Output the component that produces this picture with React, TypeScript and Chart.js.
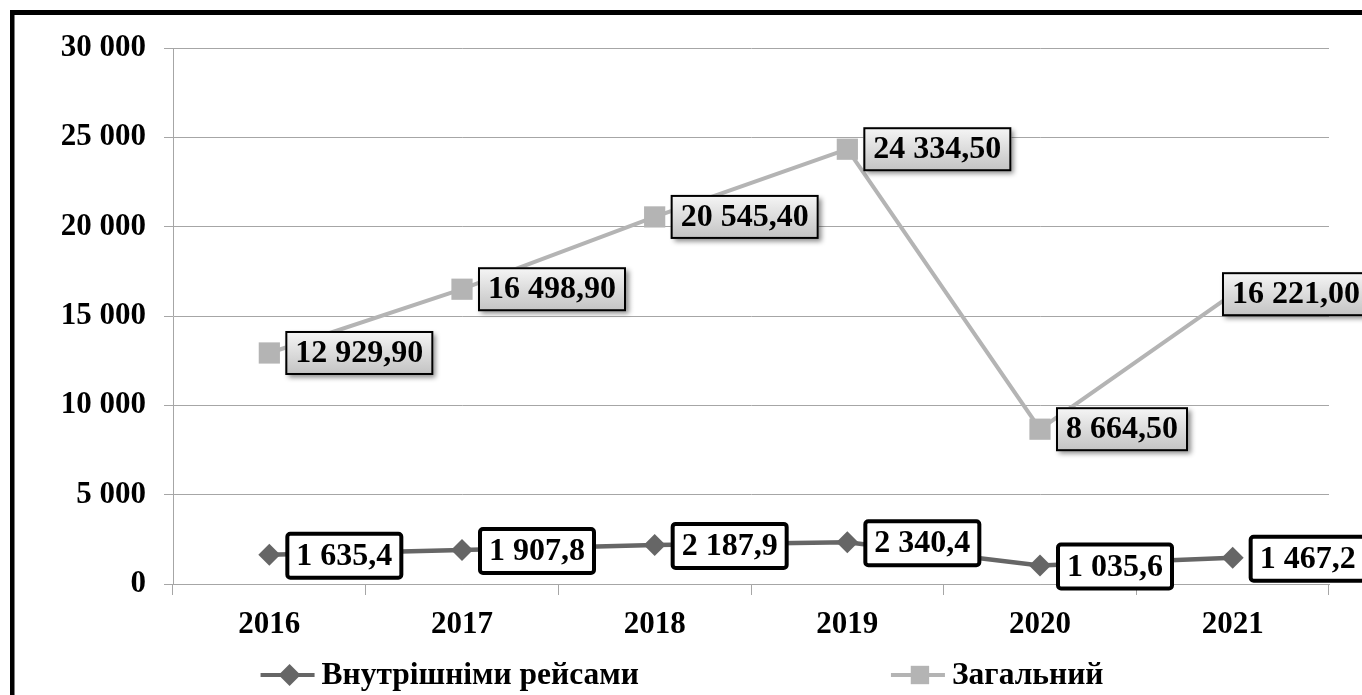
import React, { useEffect, useRef } from "react";
import { Chart, registerables } from "chart.js";

Chart.register(...registerables);

const years = ["2016", "2017", "2018", "2019", "2020", "2021"];
const domesticFlights = [1635.4, 1907.8, 2187.9, 2340.4, 1035.6, 1467.2];
const totalFlights = [12929.9, 16498.9, 20545.4, 24334.5, 8664.5, 16221.0];
const seriesNames = ["Внутрішніми рейсами", "Загальний"];
const seriesDecimals = [1, 2];
const yMin = 0;
const yMax = 30000;
const yStep = 5000;

const FONT = '"Liberation Serif", "Times New Roman", serif';
const DARK = "#666666";
const LIGHT = "#b4b4b4";
const GRID = "#a6a6a6";

function fmt(v: number, d: number): string {
  const parts = v.toFixed(d).split(".");
  const ip = parts[0].replace(/\B(?=(\d{3})+(?!\d))/g, " ");
  return parts[1] !== undefined ? ip + "," + parts[1] : ip;
}

function drawMarker(ctx: CanvasRenderingContext2D, style: string, x: number, y: number, r: number, color: string) {
  ctx.fillStyle = color;
  ctx.beginPath();
  if (style === "rectRot") {
    ctx.moveTo(x - r, y);
    ctx.lineTo(x, y - r);
    ctx.lineTo(x + r, y);
    ctx.lineTo(x, y + r);
    ctx.closePath();
  } else {
    const s = r * Math.SQRT1_2;
    ctx.rect(x - s, y - s, 2 * s, 2 * s);
  }
  ctx.fill();
}

const framePlugin = {
  id: "frame",
  beforeDraw(chart: any) {
    const ctx = chart.ctx;
    ctx.save();
    ctx.fillStyle = "#ffffff";
    ctx.fillRect(0, 0, chart.width, chart.height);
    ctx.fillStyle = "#000000";
    ctx.fillRect(10, 10, 4.5, chart.height);
    ctx.fillRect(10, 10, chart.width, 5);
    ctx.restore();
  },
};

const boxLabelPlugin = {
  id: "boxLabels",
  afterDatasetsDraw(chart: any) {
    const ctx: CanvasRenderingContext2D = chart.ctx;
    chart.data.datasets.forEach((ds: any, di: number) => {
      const meta = chart.getDatasetMeta(di);
      const dec = seriesDecimals[di];
      meta.data.forEach((pt: any, i: number) => {
        const text = fmt(ds.data[i], dec);
        ctx.save();
        ctx.font = "bold 32px " + FONT;
        const tw = ctx.measureText(text).width;
        if (di === 1) {
          const w = tw + 20;
          const h = 44;
          let left = pt.x + 16;
          left = Math.min(left, chart.width - 10 - w);
          const top = pt.y - h / 2;
          ctx.shadowColor = "rgba(0,0,0,0.45)";
          ctx.shadowBlur = 5;
          ctx.shadowOffsetX = 3;
          ctx.shadowOffsetY = 3;
          const g = ctx.createLinearGradient(0, top, 0, top + h);
          g.addColorStop(0, "#f6f6f6");
          g.addColorStop(1, "#c2c2c2");
          ctx.fillStyle = g;
          ctx.fillRect(left, top, w, h);
          ctx.shadowColor = "transparent";
          ctx.lineWidth = 2;
          ctx.strokeStyle = "#000";
          ctx.strokeRect(left + 1, top + 1, w - 2, h - 2);
          ctx.fillStyle = "#000";
          ctx.textBaseline = "middle";
          ctx.textAlign = "left";
          ctx.fillText(text, left + 10, pt.y + 1);
        } else {
          const w = tw + 22;
          const h = 48;
          let left = pt.x + 16;
          left = Math.min(left, chart.width - 10 - w);
          const top = pt.y - h / 2 + 1;
          ctx.fillStyle = "#ffffff";
          ctx.beginPath();
          (ctx as any).roundRect(left + 2, top + 2, w - 4, h - 4, 3);
          ctx.fill();
          ctx.lineWidth = 4;
          ctx.strokeStyle = "#000";
          ctx.stroke();
          ctx.fillStyle = "#000";
          ctx.textBaseline = "middle";
          ctx.textAlign = "left";
          ctx.fillText(text, left + 11, top + h / 2 + 1);
        }
        ctx.restore();
      });
    });
  },
};

const legendPlugin = {
  id: "lineLegend",
  afterDraw(chart: any) {
    const ctx: CanvasRenderingContext2D = chart.ctx;
    ctx.save();
    ctx.font = "bold 31.5px " + FONT;
    const markW = 54;
    const gapText = 7;
    const gapItems = 252;
    const items = chart.data.datasets.map((ds: any) => ({
      label: ds.label,
      color: ds.borderColor,
      style: ds.pointStyle,
      r: ds.legendRadius,
      w: markW + gapText + ctx.measureText(ds.label).width,
    }));
    const total = items.reduce((s: number, it: any) => s + it.w, 0) + gapItems * (items.length - 1);
    let x = 682 - total / 2;
    const y = 675;
    items.forEach((it: any) => {
      ctx.strokeStyle = it.color;
      ctx.lineWidth = 4;
      ctx.beginPath();
      ctx.moveTo(x, y);
      ctx.lineTo(x + markW, y);
      ctx.stroke();
      drawMarker(ctx, it.style, x + markW / 2 + 2, y, it.r, it.color);
      ctx.fillStyle = "#000";
      ctx.textBaseline = "middle";
      ctx.textAlign = "left";
      ctx.fillText(it.label, x + markW + gapText, y + 1);
      x += it.w + gapItems;
    });
    ctx.restore();
  },
};

export default function App() {
  const ref = useRef<HTMLCanvasElement | null>(null);
  useEffect(() => {
    if (!ref.current) return;
    const chart = new Chart(ref.current, {
      type: "line",
      data: {
        labels: years,
        datasets: [
          {
            label: seriesNames[0],
            data: domesticFlights,
            borderColor: DARK,
            backgroundColor: DARK,
            borderWidth: 4.5,
            pointStyle: "rectRot",
            pointRadius: 11,
            pointBorderWidth: 0,
            pointBackgroundColor: DARK,
            tension: 0,
            legendRadius: 11,
          } as any,
          {
            label: seriesNames[1],
            data: totalFlights,
            borderColor: LIGHT,
            backgroundColor: LIGHT,
            borderWidth: 4,
            pointStyle: "rect",
            pointRadius: 15,
            pointBorderWidth: 0,
            pointBackgroundColor: LIGHT,
            tension: 0,
            legendRadius: 13,
          } as any,
        ],
      },
      options: {
        animation: false,
        responsive: false,
        devicePixelRatio: 1,
        layout: { padding: { top: 48, left: 0, right: 51, bottom: 0 } },
        plugins: {
          legend: { display: false },
          tooltip: { enabled: false },
        },
        scales: {
          x: {
            offset: true,
            grid: {
              offset: true,
              drawOnChartArea: false,
              drawTicks: true,
              tickLength: 11,
              color: GRID,
            },
            border: { color: GRID, width: 1 },
            ticks: {
              color: "#000",
              font: { family: FONT, size: 31, weight: "bold" },
              padding: 11,
              maxRotation: 0,
            },
            afterFit(scale: any) {
              scale.height = 111;
            },
          },
          y: {
            min: yMin,
            max: yMax,
            grid: { color: GRID, tickLength: 9, drawTicks: true },
            border: { color: GRID, width: 1 },
            ticks: {
              stepSize: yStep,
              color: "#000",
              font: { family: FONT, size: 31, weight: "bold" },
              padding: 18,
              callback: (v: any) => fmt(Number(v), 0),
            },
            afterFit(scale: any) {
              scale.width = 173;
            },
          },
        },
      },
      plugins: [framePlugin, boxLabelPlugin, legendPlugin],
    });
    return () => chart.destroy();
  }, []);

  return (
    <div style={{ position: "fixed", left: 0, top: 0, width: 1362, height: 695, overflow: "hidden", background: "#fff" }}>
      <canvas ref={ref} width={1380} height={695} style={{ display: "block" }} />
    </div>
  );
}
